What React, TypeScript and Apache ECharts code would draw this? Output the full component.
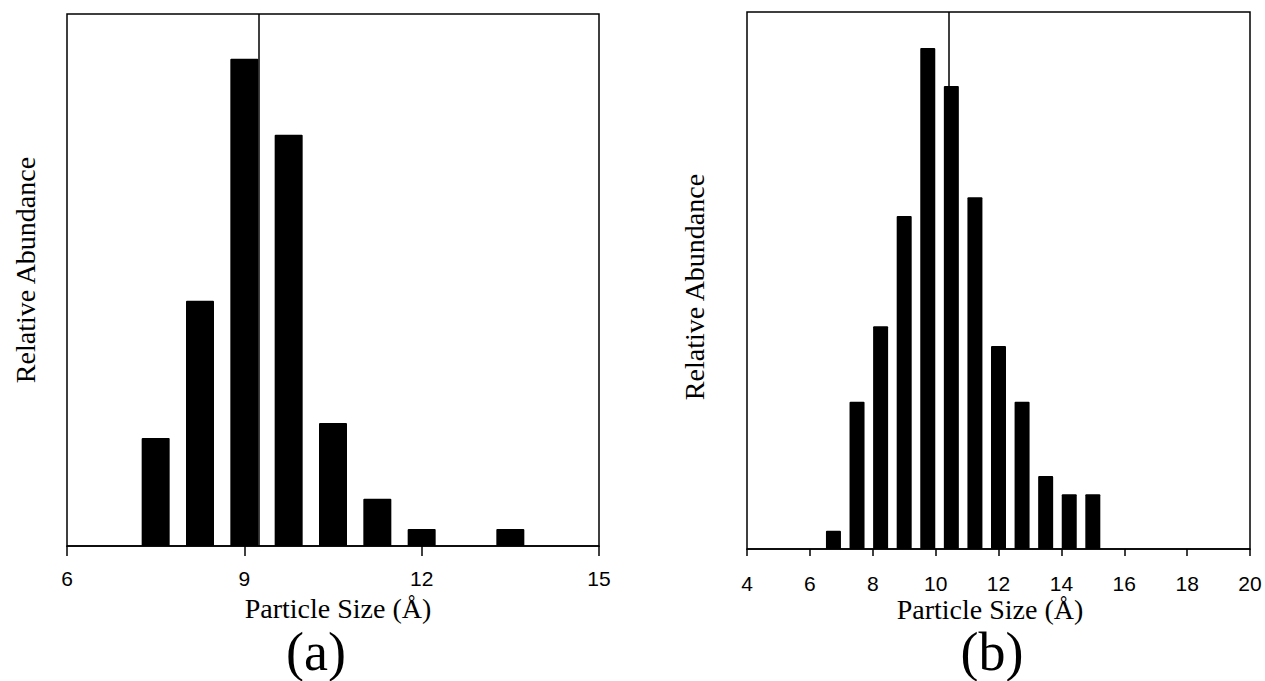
import React, { useEffect, useRef } from "react";
import * as echarts from "echarts";

// Panel (a): bin centres (Å) and relative abundance (%)
const sizesA = [7.5, 8.25, 9.0, 9.75, 10.5, 11.25, 12.0, 13.5];
const abundanceA = [20.3, 46.1, 91.6, 77.3, 23.1, 8.9, 3.2, 3.2];
const meanA = 9.25;
const ticksA = { min: 6, max: 15, interval: 3 };

// Panel (b)
const sizesB = [6.75, 7.5, 8.25, 9.0, 9.75, 10.5, 11.25, 12.0, 12.75, 13.5, 14.25, 15.0];
const abundanceB = [3.4, 27.4, 41.5, 62.0, 93.3, 86.2, 65.5, 37.8, 27.4, 13.6, 10.2, 10.2];
const meanB = 10.41;
const ticksB = { min: 4, max: 20, interval: 2 };

const xTitle = "Particle Size (Å)";
const yTitle = "Relative Abundance";
const panelLabels = ["(a)", "(b)"];

const SERIF = "'Liberation Serif', 'Times New Roman', serif";
const SANS = "'Liberation Sans', Arial, sans-serif";

export default function App() {
  const ref = useRef<HTMLDivElement>(null);
  useEffect(() => {
    if (!ref.current) return;
    const chart = echarts.init(ref.current, null, { renderer: "svg" });
    const grids = [
      { left: 67, top: 14, width: 532, height: 532 },
      { left: 747, top: 12, width: 503, height: 537 },
    ];
    const xAxisCfg = (gi: number, t: { min: number; max: number; interval: number }, tickLen: number, margin: number) => ({
      type: "value" as const,
      gridIndex: gi,
      min: t.min,
      max: t.max,
      interval: t.interval,
      axisLine: { show: true, onZero: false, lineStyle: { color: "#000", width: 1.5 } },
      axisTick: { show: true, inside: false, length: tickLen, lineStyle: { color: "#000", width: 1.5 } },
      axisLabel: { show: true, color: "#000", fontFamily: SANS, fontSize: 21, margin },
      splitLine: { show: false },
    });
    const yAxisCfg = (gi: number) => ({
      type: "value" as const,
      gridIndex: gi,
      min: 0,
      max: 100,
      axisLine: { show: false },
      axisTick: { show: false },
      axisLabel: { show: false },
      splitLine: { show: false },
    });
    const barSeries = (gi: number, xs: number[], ys: number[], w: number, mean: number) => ({
      type: "bar" as const,
      xAxisIndex: gi,
      yAxisIndex: gi,
      data: xs.map((x, i) => [x, ys[i]]),
      barWidth: w,
      itemStyle: { color: "#000", borderRadius: 1 },
      markLine: {
        silent: true,
        symbol: "none",
        label: { show: false },
        lineStyle: { color: "#000", width: 1.5, type: "solid" },
        data: [{ xAxis: mean }],
      },
    });
    const textEl = (text: string, x: number, y: number, size: number, rotate = 0) => ({
      type: "text" as const,
      x,
      y,
      rotation: rotate,
      style: {
        text,
        fontFamily: SERIF,
        fontSize: size,
        fill: "#000",
        align: "center",
        verticalAlign: "middle",
      },
    });
    chart.setOption({
      animation: false,
      backgroundColor: "#fff",
      grid: grids.map((g) => ({ ...g, show: true, borderColor: "#000", borderWidth: 1.5, backgroundColor: "transparent" })),
      xAxis: [xAxisCfg(0, ticksA, 10, 22), xAxisCfg(1, ticksB, 7, 24)],
      yAxis: [yAxisCfg(0), yAxisCfg(1)],
      series: [
        barSeries(0, sizesA, abundanceA, 28, meanA),
        barSeries(1, sizesB, abundanceB, 15, meanB),
      ],
      graphic: [
        textEl(xTitle, 338, 608, 28),
        textEl(xTitle, 990, 609, 28),
        textEl(yTitle, 25, 270, 28, Math.PI / 2),
        textEl(yTitle, 694, 287, 28, Math.PI / 2),
        textEl(panelLabels[0], 316, 652, 54),
        textEl(panelLabels[1], 992, 652, 54),
      ],
    });
    return () => chart.dispose();
  }, []);
  return (
    <div
      ref={ref}
      style={{ position: "fixed", left: 0, top: 0, width: 1265, height: 681, background: "#fff" }}
    />
  );
}
